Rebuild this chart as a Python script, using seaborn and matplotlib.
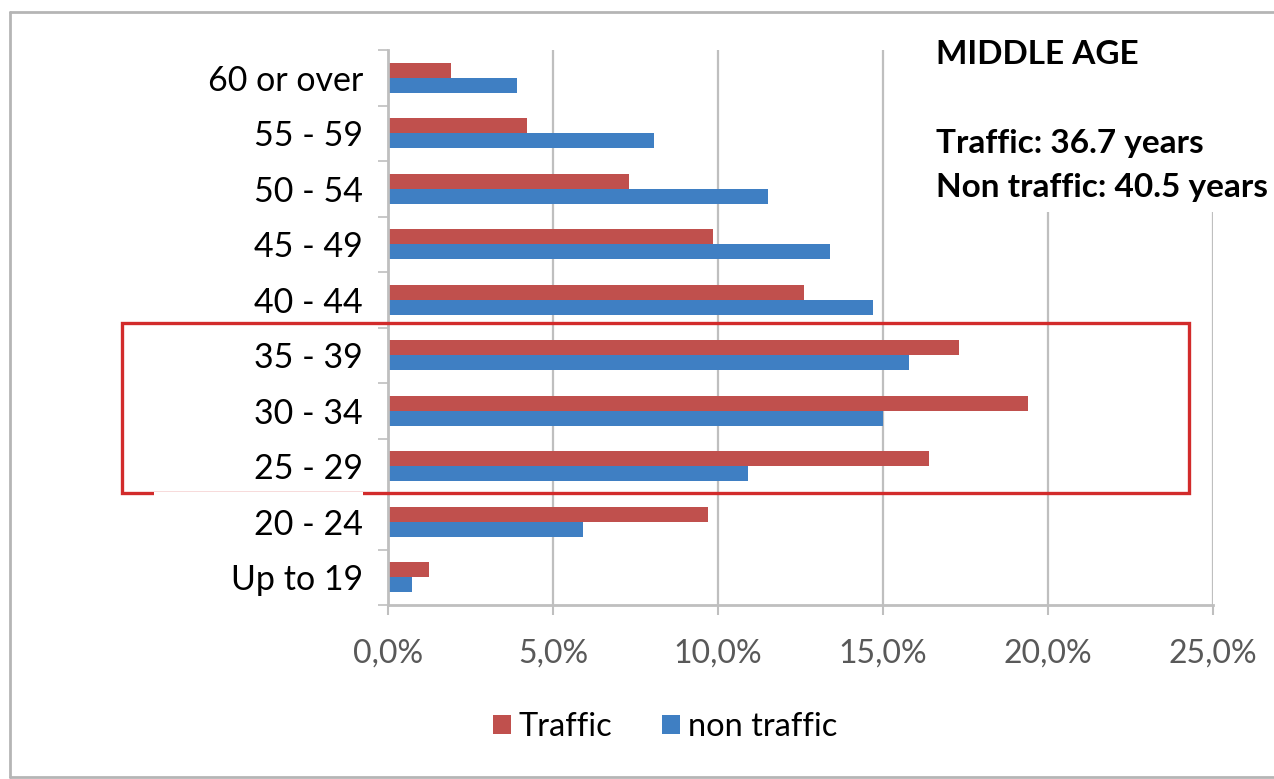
import numpy as np
import pandas as pd
import matplotlib
matplotlib.use("Agg")
import matplotlib.pyplot as plt
from matplotlib.patches import Rectangle, Patch
from matplotlib.lines import Line2D
import seaborn as sns

# ---- data ----
age_groups = ["60 or over", "55 - 59", "50 - 54", "45 - 49", "40 - 44",
              "35 - 39", "30 - 34", "25 - 29", "20 - 24", "Up to 19"]
traffic = [1.9, 4.2, 7.3, 9.85, 12.6, 17.3, 19.4, 16.4, 9.7, 1.25]
non_traffic = [3.9, 8.05, 11.5, 13.4, 14.7, 15.8, 15.0, 10.9, 5.9, 0.72]
series_names = ["Traffic", "non traffic"]
x_ticks = [0, 5, 10, 15, 20, 25]
x_tick_labels = ["0,0%", "5,0%", "10,0%", "15,0%", "20,0%", "25,0%"]
note_title = "MIDDLE AGE"
note_lines = ["Traffic: 36.7 years", "Non traffic: 40.5 years"]

colors = {"Traffic": "#C0504D", "non traffic": "#3F7FC3"}

df = pd.DataFrame({
    "age": age_groups * 2,
    "value": traffic + non_traffic,
    "series": [series_names[0]] * len(age_groups) + [series_names[1]] * len(age_groups),
})

sns.set_theme(style="white")
plt.rcParams["font.family"] = ["Lato", "DejaVu Sans"]
plt.rcParams["text.color"] = "black"

W, H = 1274, 779
fig = plt.figure(figsize=(W / 100, H / 100), dpi=100)
fig.patch.set_facecolor("white")

def fx(px):
    return px / W

def fy(py):
    return 1 - py / H

ax = fig.add_axes([fx(388), fy(605), fx(1213) - fx(388), fy(50) - fy(605)])

sns.barplot(data=df, y="age", x="value", hue="series", order=age_groups,
            hue_order=series_names, orient="h", palette=colors, width=0.54,
            saturation=1, ax=ax, linewidth=0, legend=True)

ax.set_xlim(0, 25)
ax.set_ylim(len(age_groups) - 0.5, -0.5)
ax.set_xticks(x_ticks)
ax.set_xticklabels(x_tick_labels, color="#595959", fontsize=23)
ax.set_xlabel("")
ax.set_ylabel("")
ax.tick_params(axis="y", length=0, pad=18, labelsize=24.5, labelcolor="black")
ax.set_yticks(np.arange(-0.5, len(age_groups), 1), minor=True)
ax.tick_params(axis="y", which="minor", length=7, width=1.2, color="#bfbfbf", left=True)
ax.tick_params(axis="x", length=7, width=1.5, color="#bfbfbf", bottom=True, pad=17)

ax.xaxis.grid(True, color="#bfbfbf", lw=1.6)
ax.yaxis.grid(False)
ax.set_axisbelow(True)
for s in ["top", "right"]:
    ax.spines[s].set_visible(False)
for s in ["left", "bottom"]:
    ax.spines[s].set_color("#bfbfbf")
    ax.spines[s].set_linewidth(2)

# legend
handles, labels = ax.get_legend_handles_labels()
ax.legend_.remove()
leg = fig.legend(handles, labels, loc="center", bbox_to_anchor=(fx(665), fy(727)),
                 ncol=2, frameon=False, fontsize=23.5, handlelength=0.55, handleheight=0.55,
                 handletextpad=0.25, columnspacing=1.5)
for t in leg.get_texts():
    t.set_color("black")

# white block behind the note (covers gridlines)
fig.patches.append(Rectangle((fx(925), fy(212)), fx(1274) - fx(925), fy(48) - fy(212),
                             transform=fig.transFigure, facecolor="white",
                             edgecolor="none", zorder=2))
fig.text(fx(936), fy(64), note_title, fontsize=24, fontweight="bold", color="black",
         ha="left", va="baseline", zorder=3)
fig.text(fx(936), fy(153), note_lines[0], fontsize=24, fontweight="bold", color="black",
         ha="left", va="baseline", zorder=3)
fig.text(fx(936), fy(197), note_lines[1], fontsize=24, fontweight="bold", color="black",
         ha="left", va="baseline", zorder=3)

# red highlight box
fig.patches.append(Rectangle((fx(122), fy(493)), fx(1189) - fx(122), fy(323) - fy(493),
                             transform=fig.transFigure, facecolor="none",
                             edgecolor="#D22B2B", lw=2.4, zorder=4))
fig.patches.append(Rectangle((fx(154), fy(496)), fx(363) - fx(154), fy(492) - fy(496),
                             transform=fig.transFigure, facecolor="white",
                             edgecolor="none", zorder=5))

# outer frame
for (x0, y0, x1, y1) in [(10, 12, 10, 777), (10, 12, 1274, 12), (10, 777, 1274, 777)]:
    fig.add_artist(Line2D([fx(x0), fx(x1)], [fy(y0), fy(y1)], transform=fig.transFigure,
                          color="#b5b5b5", lw=2, zorder=1))

fig.savefig("out.png", dpi=100)
